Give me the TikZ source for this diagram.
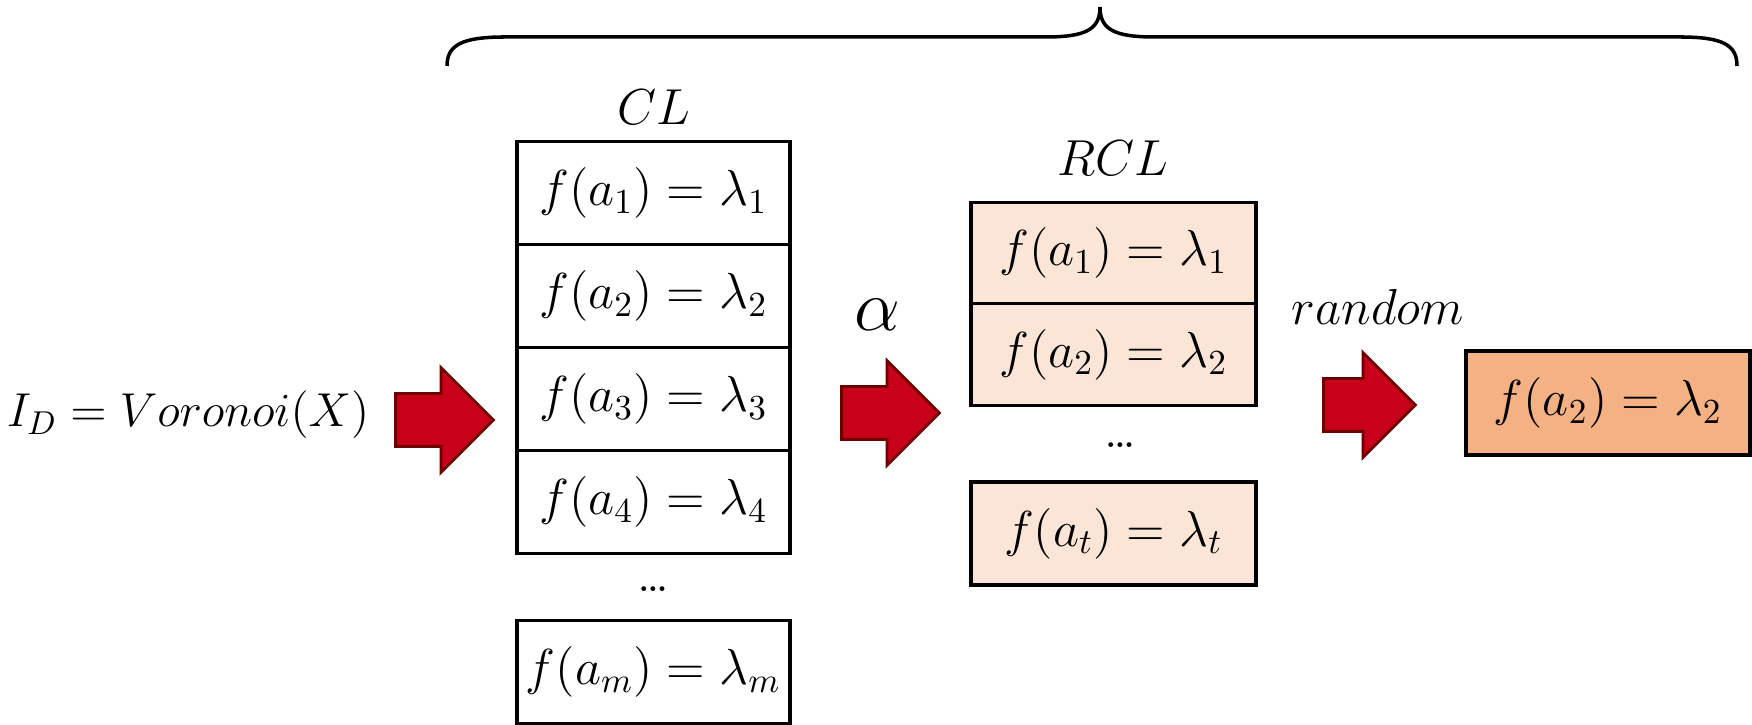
\documentclass[tikz,border=0pt]{standalone}
\usepackage{amsmath,amssymb}
\usetikzlibrary{shapes.arrows}
\definecolor{arrowred}{RGB}{200,0,26}
\definecolor{arrowedge}{RGB}{110,0,0}
\definecolor{rclfill}{RGB}{251,229,214}
\definecolor{pickfill}{RGB}{244,177,131}

\begin{document}
\begin{tikzpicture}[
  every node/.style={font=\fontsize{14}{17}\selectfont},
  clrow/.style={draw,line width=0.9pt,minimum width=2.73cm,minimum height=1.03cm,inner sep=0pt},
  rclrow/.style={clrow,fill=rclfill,minimum width=2.85cm,minimum height=1.015cm},
  pickbox/.style={clrow,fill=pickfill,minimum width=2.84cm,minimum height=1.04cm},
  bigarrow/.style={single arrow,draw=arrowedge,fill=arrowred,line width=0.8pt,anchor=tail,
    inner xsep=0pt,inner ysep=0.25cm,single arrow head extend=0.26cm,minimum height=0.98cm}]
\useasboundingbox (0,0) rectangle (17.52,7.25);
% brace over the whole step
\draw[line width=1pt] (4.47,6.59)
  .. controls (4.47,6.80) and (4.62,6.88) .. (5.05,6.88) -- (10.45,6.88)
  .. controls (10.85,6.88) and (11.0,6.95) .. (11.0,7.18)
  .. controls (11.0,6.95) and (11.15,6.88) .. (11.55,6.88) -- (16.8,6.88)
  .. controls (17.23,6.88) and (17.37,6.80) .. (17.37,6.59);
% input
\node[scale=0.94,transform shape] (id) at (1.88,3.10) {$I_D=Voronoi(X)$};
\node[bigarrow] (a1) at (3.94,3.05) {};
% candidate list
\node (cl) at (6.535,6.18) {$CL$};
\node[clrow] (cl1) at (6.535,5.32) {$f(a_1)=\lambda_1$};
\node[clrow] (cl2) at (6.535,4.29) {$f(a_2)=\lambda_2$};
\node[clrow] (cl3) at (6.535,3.26) {$f(a_3)=\lambda_3$};
\node[clrow] (cl4) at (6.535,2.23) {$f(a_4)=\lambda_4$};
\node (cldots) at (6.535,1.36) {\ldots};
\node[clrow] (clm) at (6.535,0.53) {$f(a_m)=\lambda_m$};
% alpha cut
\node[font=\fontsize{20}{24}\selectfont] (alpha) at (8.77,4.10) {$\alpha$};
\node[bigarrow] (a2) at (8.40,3.12) {};
% restricted list
\node (rcl) at (11.13,5.67) {$RCL$};
\node[rclrow] (rcl1) at (11.135,4.72) {$f(a_1)=\lambda_1$};
\node[rclrow] (rcl2) at (11.135,3.705) {$f(a_2)=\lambda_2$};
\node (rcldots) at (11.2,2.80) {\ldots};
\node[rclrow,minimum height=1.03cm] (rclt) at (11.135,1.915) {$f(a_t)=\lambda_t$};
% random pick
\node (rnd) at (13.78,4.18) {$random$};
\node[bigarrow,minimum height=0.92cm] (a3) at (13.22,3.20) {};
\node[pickbox] (pick) at (16.08,3.22) {$f(a_2)=\lambda_2$};
\end{tikzpicture}
\end{document}
